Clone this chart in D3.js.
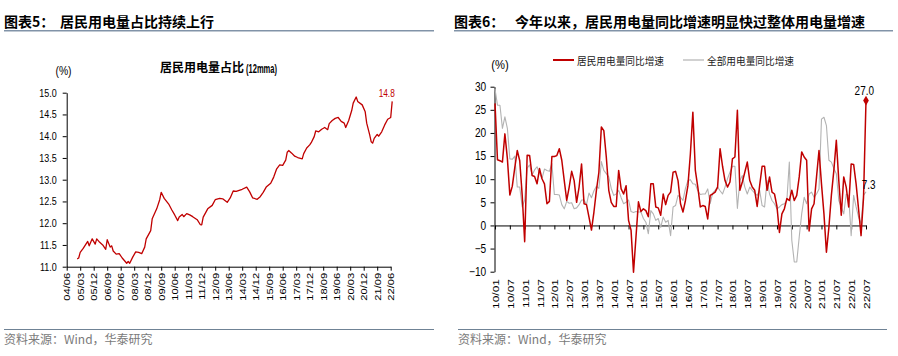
<!DOCTYPE html>
<html><head><meta charset="utf-8">
<script src="https://cdn.jsdelivr.net/npm/d3@7/dist/d3.min.js"></script>
<style>
html,body{margin:0;padding:0;background:#fff;overflow:hidden;}
svg{display:block;}
</style></head><body>
<svg id="c" width="898" height="356"></svg>
<script>
// ---------------- Chart 1 data: residential share of power use (12mma, %) ----------------
const shareMonths = ["2005-01","2005-02","2005-03","2005-05","2005-08","2005-09","2005-11","2006-01","2006-02","2006-04","2006-06","2006-08","2006-09","2006-11","2006-12","2007-01","2007-03","2007-05","2007-07","2007-10","2007-11","2007-12","2008-02","2008-04","2008-06","2008-08","2008-10","2008-11","2009-02","2009-03","2009-06","2009-08","2009-09","2009-11","2010-02","2010-04","2010-06","2010-08","2010-09","2010-11","2010-12","2011-02","2011-04","2011-06","2011-09","2011-11","2011-12","2012-01","2012-04","2012-07","2012-09","2012-12","2013-02","2013-05","2013-07","2013-09","2013-11","2014-03","2014-06","2014-08","2014-10","2015-01","2015-03","2015-05","2015-07","2015-10","2015-12","2016-02","2016-04","2016-06","2016-08","2016-09","2016-10","2016-12","2017-02","2017-04","2017-07","2017-08","2017-10","2017-12","2018-01","2018-03","2018-04","2018-06","2018-08","2018-10","2018-12","2019-01","2019-03","2019-05","2019-07","2019-09","2019-11","2019-12","2020-02","2020-04","2020-05","2020-07","2020-08","2020-11","2021-01","2021-02","2021-04","2021-05","2021-06","2021-07","2021-09","2021-10","2021-12","2022-02","2022-04","2022-06","2022-07"];
const shareValues = [11.18,11.20,11.33,11.42,11.58,11.48,11.64,11.52,11.64,11.56,11.50,11.40,11.62,11.45,11.48,11.36,11.29,11.30,11.20,11.08,11.12,11.08,11.22,11.34,11.33,11.30,11.45,11.64,11.83,12.10,12.33,12.54,12.71,12.57,12.44,12.31,12.19,12.06,12.14,12.20,12.15,12.22,12.19,12.15,12.08,11.97,11.96,12.14,12.33,12.41,12.54,12.57,12.56,12.48,12.58,12.74,12.73,12.78,12.83,12.72,12.58,12.55,12.61,12.71,12.83,12.92,13.06,13.25,13.34,13.33,13.45,13.63,13.67,13.61,13.54,13.51,13.48,13.60,13.73,13.80,13.85,13.99,14.12,14.10,14.16,14.20,14.15,14.29,14.36,14.41,14.43,14.34,14.30,14.20,14.36,14.59,14.76,14.90,14.80,14.72,14.56,14.30,14.03,13.87,13.84,13.95,14.04,14.00,14.10,14.26,14.39,14.43,14.80];
const shareTickLabels = ["04/06","05/03","05/12","06/09","07/06","08/03","08/12","09/09","10/06","11/03","11/12","12/09","13/06","14/03","14/12","15/09","16/06","17/03","17/12","18/09","19/06","20/03","20/12","21/09","22/06"];
const shareYTicks = [11.0,11.5,12.0,12.5,13.0,13.5,14.0,14.5,15.0];
const shareLastLabel = "14.8";

// ---------------- Chart 2 data: YoY growth (%), monthly from 2010/01 ----------------
const yoyStart = "2010-01";
const residentialYoY = [26.4,14.2,14.0,13.7,19.8,14.5,6.6,8.5,12.5,16.2,14.0,6.5,-3.5,15.2,15.1,10.8,10.6,9.0,12.3,10.1,9.0,4.7,5.2,14.9,14.9,15.1,16.6,14.1,9.7,5.4,8.3,11.7,9.7,5.0,8.3,13.3,4.7,4.5,1.8,-1.0,2.9,7.6,11.5,21.3,20.5,14.8,7.6,5.0,4.1,4.1,11.9,7.9,6.8,8.6,1.1,-1.0,-10.1,-2.5,5.1,3.0,3.6,3.2,1.9,9.0,9.0,4.0,3.8,2.2,6.8,4.5,6.5,7.2,11.5,11.7,9.7,4.7,2.9,5.4,8.6,15.5,24.5,11.9,8.3,4.0,4.3,4.1,1.4,6.5,6.8,7.2,8.3,16.6,12.8,9.7,8.3,9.4,14.4,14.8,24.9,7.6,9.4,11.5,13.7,9.7,8.3,7.6,4.1,8.6,12.8,12.8,7.6,10.5,7.2,6.8,4.1,-1.5,2.5,3.6,5.8,5.4,7.6,5.4,6.5,10.5,15.9,14.8,14.1,-1.2,3.6,4.7,10.5,16.2,9.0,2.5,-5.8,-0.4,6.5,11.9,18.4,9.7,2.2,10.5,8.3,4.0,13.3,13.2,9.0,3.5,-2.2,6.0,27.0];
const totalYoY = [29.5,26.0,26.0,21.0,23.5,21.0,14.4,14.3,15.0,8.3,8.3,4.0,5.5,12.4,13.1,10.9,12.0,12.7,11.3,10.2,12.2,11.9,11.7,13.4,6.7,6.7,6.6,4.5,3.6,5.2,4.8,4.9,3.6,3.8,4.5,5.5,5.5,4.5,7.0,6.0,7.5,8.5,8.0,13.8,11.9,11.2,10.5,8.0,6.5,6.8,7.6,6.0,4.7,5.0,5.5,3.0,2.8,3.0,2.9,2.9,1.5,0.7,-1.8,3.2,2.5,1.1,1.5,-0.4,1.8,0.7,1.1,-2.2,4.0,4.3,6.5,6.1,5.4,8.0,9.7,9.9,9.0,8.9,7.5,6.7,6.8,6.8,7.9,4.7,7.0,7.6,8.3,7.5,6.8,8.3,10.1,11.5,12.8,12.8,3.7,9.7,10.8,8.3,6.8,8.3,7.6,7.0,6.5,7.6,4.3,4.0,9.7,6.8,5.4,4.7,3.6,4.0,4.5,4.7,5.4,13.7,-3.2,-7.9,-7.9,-2.5,2.5,6.1,4.7,6.8,7.2,6.1,6.8,7.9,23.0,23.4,21.6,14.1,13.7,12.3,11.2,5.4,4.0,2.5,6.8,6.5,-2.2,6.5,4.0,1.8,0.4,6.5,7.3];
const yoyTickLabels = ["10/01","10/07","11/01","11/07","12/01","12/07","13/01","13/07","14/01","14/07","15/01","15/07","16/01","16/07","17/01","17/07","18/01","18/07","19/01","19/07","20/01","20/07","21/01","21/07","22/01","22/07"];
const yoyYTicks = [-10,-5,0,5,10,15,20,25,30];
const seriesNames = ["居民用电量同比增速","全部用电量同比增速"];

// ---------------- drawing ----------------
const SX = 0.83;           // horizontal squeeze of Latin text in the reference
const LATIN = "'Liberation Sans', Arial, sans-serif";
const CJK = "'Noto Sans CJK SC', 'Liberation Sans', sans-serif";
const RED = "#c00000", GRAY = "#b3b3b3", RULE = "#8193a8";
const svg = d3.select("#c");

function panelFrame(x0, x1, label, titleX, titleText, srcX) {
  svg.append("text").attr("x", x0).attr("y", 27).attr("font-family", CJK)
    .attr("font-weight", 700).attr("font-size", 14).attr("fill", "#000").text(label);
  svg.append("text").attr("x", titleX).attr("y", 27).attr("font-family", CJK)
    .attr("font-weight", 700).attr("font-size", 14).attr("fill", "#000").text(titleText);
  svg.append("line").attr("x1", x0).attr("x2", x1).attr("y1", 30.7).attr("y2", 30.7)
    .attr("stroke", RULE).attr("stroke-width", 1.5);
  svg.append("line").attr("x1", srcX).attr("x2", x1 - (srcX === 4 ? 0 : 6)).attr("y1", 329.5).attr("y2", 329.5)
    .attr("stroke", "#6f8295").attr("stroke-width", 1);
  svg.append("text").attr("x", srcX).attr("y", 344).attr("font-family", CJK)
    .attr("font-size", 12).attr("fill", "#7a7a7a").text("资料来源：Wind，华泰研究");
}
panelFrame(4, 434, "图表5：", 60, "居民用电量占比持续上行", 4);
panelFrame(454, 893, "图表6：", 515, "今年以来，居民用电量同比增速明显快过整体用电量增速", 458);

function squeezed(x, y, txt, size, anchor, fill, family) {
  return svg.append("text")
    .attr("transform", `translate(${x},${y}) scale(${SX},1)`)
    .attr("text-anchor", anchor || "start")
    .attr("font-family", family || LATIN).attr("font-size", size)
    .attr("fill", fill || "#000").text(txt);
}

// ===== Chart 1 =====
const m1 = s => { const [yy, mm] = s.split("-").map(Number); return (yy - 2004) * 12 + (mm - 6); };
const x1 = d3.scaleLinear().domain([0, 216]).range([66.7, 390.7]);
const y1 = d3.scaleLinear().domain([11, 15]).range([266.7, 92.7]);

svg.append("text").attr("x", 160).attr("y", 72).attr("font-family", CJK).attr("font-weight", 700)
  .attr("font-size", 12).text("居民用电量占比");
svg.append("text").attr("x", 246).attr("y", 72.5).attr("font-family", LATIN).attr("font-weight", 700)
  .attr("font-size", 12.5).attr("textLength", 31).attr("lengthAdjust", "spacingAndGlyphs").text("(12mma)");
squeezed(63.5, 75, "(%)", 12.5, "middle");

const gy1 = svg.append("g").attr("transform", "translate(66.7,0)")
  .call(d3.axisLeft(y1).tickValues(shareYTicks).tickSize(4).tickSizeOuter(0).tickFormat(d3.format(".1f")));
gy1.selectAll("text").attr("x", -10 / SX).attr("transform", `scale(${SX},1)`)
  .attr("font-family", LATIN).attr("font-size", 10.8).attr("fill", "#000");

const gx1 = svg.append("g").attr("transform", `translate(0,${y1(11)})`)
  .call(d3.axisBottom(x1).tickValues(d3.range(0, 217, 9)).tickSize(4).tickSizeOuter(0)
    .tickFormat((d, i) => shareTickLabels[i]));
gx1.selectAll("text").attr("text-anchor", "end").attr("x", -6).attr("y", 0).attr("dy", "0.35em")
  .attr("transform", `scale(${SX},1) rotate(-90)`)
  .attr("font-family", LATIN).attr("font-size", 11.2).attr("fill", "#000");
[gy1, gx1].forEach(g => { g.select(".domain").attr("stroke", "#000"); g.selectAll(".tick line").attr("stroke", "#000"); });

const shareData = shareMonths.map((m, i) => ({ m: m1(m), v: shareValues[i] }));
svg.append("path").datum(shareData).attr("fill", "none").attr("stroke", RED).attr("stroke-width", 1.3)
  .attr("stroke-linejoin", "round")
  .attr("d", d3.line().x(d => x1(d.m)).y(d => y1(d.v)));
const lastS = shareData[shareData.length - 1];
squeezed(x1(lastS.m) - 5.5, y1(lastS.v) - 4.1, shareLastLabel, 10, "middle", RED);

// ===== Chart 2 =====
const x2 = d3.scaleLinear().domain([0, residentialYoY.length - 1]).range([495, 866]);
const y2 = d3.scaleLinear().domain([-10, 30]).range([271.7, 86.7]);

squeezed(500, 69, "(%)", 13.5, "middle");

const gy2 = svg.append("g").attr("transform", "translate(494.5,0)")
  .call(d3.axisLeft(y2).tickValues(yoyYTicks).tickSize(4).tickSizeOuter(0).tickFormat(d3.format("d")));
gy2.selectAll("text").attr("x", -8.3 / SX).attr("transform", `scale(${SX},1)`)
  .attr("font-family", LATIN).attr("font-size", 12.2).attr("fill", "#000");

const gx2 = svg.append("g").attr("transform", `translate(0,${y2(0)})`)
  .call(d3.axisBottom(x2).tickValues(d3.range(0, 151, 6)).tickSize(4).tickSizeOuter(0)
    .tickFormat((d, i) => yoyTickLabels[i]));
gx2.selectAll("text").attr("text-anchor", "end").attr("x", -(279 - y2(0))).attr("y", 0).attr("dy", "0.35em")
  .attr("transform", `scale(${SX},1) rotate(-90)`)
  .attr("font-family", LATIN).attr("font-size", 12).attr("fill", "#000");
[gy2, gx2].forEach(g => { g.select(".domain").attr("stroke", "#000"); g.selectAll(".tick line").attr("stroke", "#000"); });

const line2 = d3.line().x((d, i) => x2(i)).y(d => y2(d));
svg.append("path").datum(totalYoY).attr("fill", "none").attr("stroke", GRAY).attr("stroke-width", 1.1)
  .attr("stroke-linejoin", "round").attr("d", line2);
svg.append("path").datum(residentialYoY).attr("fill", "none").attr("stroke", RED).attr("stroke-width", 1.5)
  .attr("stroke-linejoin", "round").attr("d", line2);

const nR = residentialYoY.length - 1, nT = totalYoY.length - 1;
svg.append("path").attr("d", d3.symbol(d3.symbolDiamond, 28)())
  .attr("transform", `translate(${x2(nR)},${y2(residentialYoY[nR])})`).attr("fill", RED);
squeezed(x2(nR) - 1.7, y2(residentialYoY[nR]) - 5.6, residentialYoY[nR].toFixed(1), 12, "middle", "#000");
squeezed(x2(nT) - 4.3, y2(totalYoY[nT]) - 2.4, totalYoY[nT].toFixed(1), 12, "start", "#000");

// legend
const legend = [
  { name: seriesNames[0], color: RED, w: 2, x: 553 },
  { name: seriesNames[1], color: GRAY, w: 1.2, x: 683 }
];
legend.forEach(l => {
  svg.append("line").attr("x1", l.x).attr("x2", l.x + 21).attr("y1", 60).attr("y2", 60)
    .attr("stroke", l.color).attr("stroke-width", l.w);
  svg.append("text").attr("x", l.x + 24).attr("y", 64.5).attr("font-family", CJK)
    .attr("font-size", 10.5).attr("textLength", 87).attr("lengthAdjust", "spacingAndGlyphs")
    .attr("fill", "#222").text(l.name);
});
</script>
</body></html>
